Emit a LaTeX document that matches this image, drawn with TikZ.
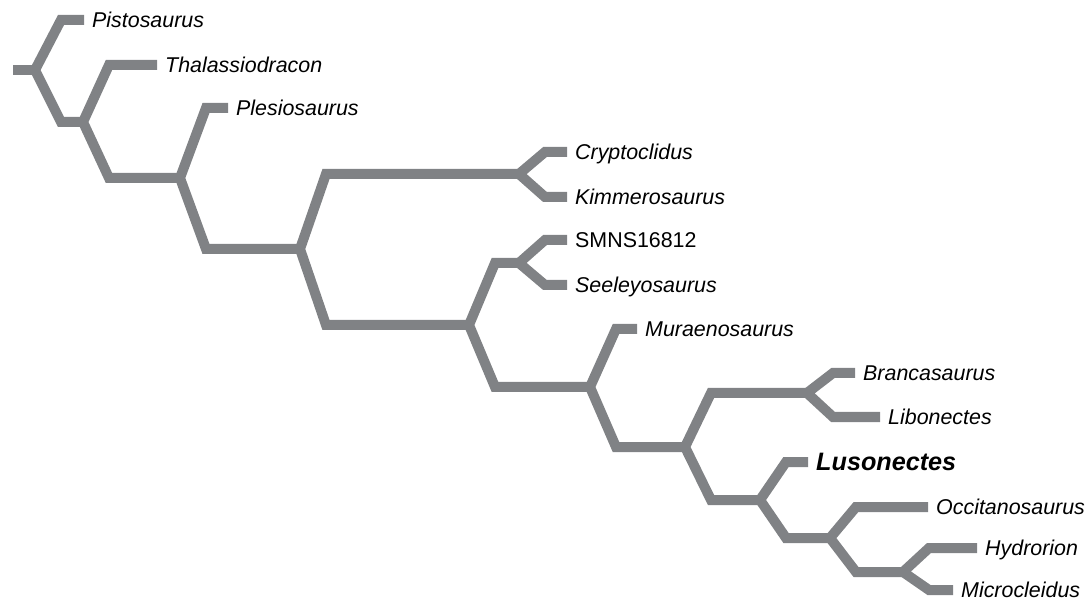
\documentclass[tikz,border=0pt]{standalone}
\usepackage{fontspec}
\setmainfont{Liberation Sans}
\usepackage{xcolor}
\definecolor{treegray}{RGB}{128,130,133}
% one fork: top child, bend, junction, bend, bottom child
\newcommand\clade[3]{\draw[branch] (#2) -- ([xshift=26pt]#1 |- #2) -- (#1) -- ([xshift=26pt]#1 |- #3) -- (#3);}

\begin{document}
\begin{tikzpicture}[x=1pt,y=-1pt]
\tikzset{branch/.style={draw=treegray,line width=10pt},
  taxon/.style={anchor=west,inner xsep=8pt,inner ysep=0pt,text height=15pt,text depth=0pt,font=\fontsize{21.4}{24}\selectfont\itshape}}
\useasboundingbox (0,0) rectangle (1087,601);
% taxa
\node[taxon] (pisto) at (84,20) {Pistosaurus};
\node[taxon] (thala) at (157,65) {Thalassiodracon};
\node[taxon] (plesio) at (228,108) {Plesiosaurus};
\node[taxon] (crypto) at (567,152) {Cryptoclidus};
\node[taxon] (kimmero) at (567,197) {Kimmerosaurus};
\node[taxon,font=\fontsize{21.4}{24}\selectfont] (smns) at (567,240) {SMNS16812};
\node[taxon] (seeley) at (567,285) {Seeleyosaurus};
\node[taxon] (muraeno) at (637,329) {Muraenosaurus};
\node[taxon] (branca) at (855,373) {Brancasaurus};
\node[taxon] (libo) at (880,417) {Libonectes};
\node[taxon,text height=17pt,font=\fontsize{25.2}{28}\selectfont\bfseries\itshape] (luso) at (808,462) {Lusonectes};
\node[taxon] (occi) at (928,507) {Occitanosaurus};
\node[taxon] (hydro) at (977,548) {Hydrorion};
\node[taxon] (micro) at (953,590) {Microcleidus};
% junctions
\coordinate (root) at (13,70);
\coordinate (j0) at (35,70);
\coordinate (j1) at (83,122);
\coordinate (j2) at (180,178);
\coordinate (j3) at (300,249);
\coordinate (j4) at (519,174);
\coordinate (j5) at (469,325);
\coordinate (j6) at (519,263);
\coordinate (j7) at (590,387);
\coordinate (j8) at (685,447);
\coordinate (j9) at (807,393);
\coordinate (j10) at (760,500);
\coordinate (j11) at (830,538);
\coordinate (j12) at (903,572);
% tree
\draw[branch] (root) -- (j0);
\clade{j0}{pisto.west}{j1}
\clade{j1}{thala.west}{j2}
\clade{j2}{plesio.west}{j3}
\clade{j3}{j4}{j5}
\clade{j4}{crypto.west}{kimmero.west}
\clade{j5}{j6}{j7}
\clade{j6}{smns.west}{seeley.west}
\clade{j7}{muraeno.west}{j8}
\clade{j8}{j9}{j10}
\clade{j9}{branca.west}{libo.west}
\clade{j10}{luso.west}{j11}
\clade{j11}{occi.west}{j12}
\clade{j12}{hydro.west}{micro.west}
\end{tikzpicture}
\end{document}
